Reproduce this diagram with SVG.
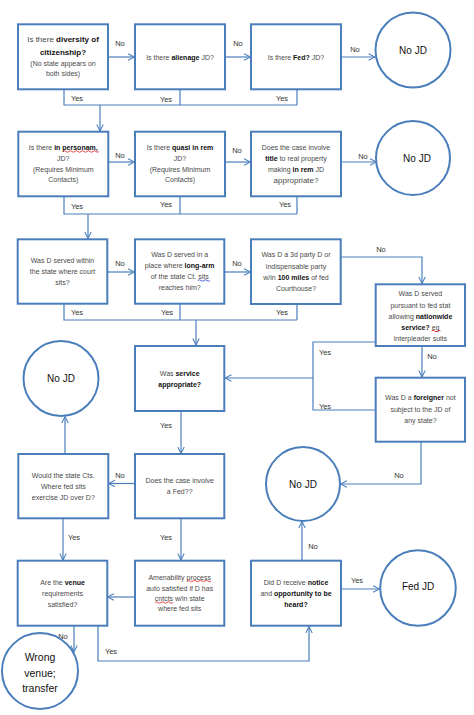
<svg xmlns="http://www.w3.org/2000/svg" width="474" height="715" viewBox="0 0 474 715">
<style>
.box{fill:#fff;stroke:#4A7EBB;stroke-width:2}
.circ{fill:#fff;stroke:#4A7EBB;stroke-width:2}
.conn{fill:none;stroke:#4A7EBB;stroke-width:1.2}
.t{font-family:"Liberation Sans",Arial,sans-serif;font-size:7px;fill:#4a4a4a;text-anchor:middle}
.b{font-weight:bold;fill:#111}
.big{font-size:8px}
.cl{font-family:"Liberation Sans",Arial,sans-serif;font-size:10px;fill:#111;text-anchor:middle}
.lbl{font-family:"Liberation Sans",Arial,sans-serif;font-size:7.5px;fill:#333;text-anchor:middle}
.sq{fill:none;stroke:#e02020;stroke-width:0.8}
.sqb{fill:none;stroke:#2040d0;stroke-width:0.8}
</style>
<defs>
<marker id="arr" viewBox="0 0 10 10" refX="9" refY="5" markerWidth="8" markerHeight="8" orient="auto" markerUnits="userSpaceOnUse">
<path d="M1,1 L9,5 L1,9" fill="none" stroke="#4A7EBB" stroke-width="1.3"/>
</marker>
</defs>
<rect width="474" height="715" fill="#fff"/>

<g id="connectors">
<path class="conn" d="M108,57 H134.5" marker-end="url(#arr)"/>
<path class="conn" d="M225,57 H250.5" marker-end="url(#arr)"/>
<path class="conn" d="M341,57 H375" marker-end="url(#arr)"/>
<path class="conn" d="M64,89.5 V105 H297 M180,89.5 V105 M297,89.5 V105"/>
<path class="conn" d="M100,105 V131" marker-end="url(#arr)"/>

<path class="conn" d="M108,162 H134.5" marker-end="url(#arr)"/>
<path class="conn" d="M225,162 H250.5" marker-end="url(#arr)"/>
<path class="conn" d="M341,162 H376.5" marker-end="url(#arr)"/>
<path class="conn" d="M64,196.5 V214 H297 M180,196.5 V214 M297,196.5 V214"/>
<path class="conn" d="M88,214 V238.5" marker-end="url(#arr)"/>

<path class="conn" d="M107,272 H134.5" marker-end="url(#arr)"/>
<path class="conn" d="M224,272 H250.5" marker-end="url(#arr)"/>
<path class="conn" d="M341,257 H422 V283.5" marker-end="url(#arr)"/>
<path class="conn" d="M64,304 V320 H297 M180,304 V320 M297,304 V320"/>
<path class="conn" d="M196,320 V345" marker-end="url(#arr)"/>

<path class="conn" d="M422,346 V377" marker-end="url(#arr)"/>
<path class="conn" d="M376,342 H313 V410 H376"/>
<path class="conn" d="M313,378 H225" marker-end="url(#arr)"/>

<path class="conn" d="M181,411 V453.5" marker-end="url(#arr)"/>
<path class="conn" d="M65,454 V416.5" marker-end="url(#arr)"/>
<path class="conn" d="M135,483.5 H108.5" marker-end="url(#arr)"/>
<path class="conn" d="M421,441.7 V484 H340.5" marker-end="url(#arr)"/>

<path class="conn" d="M63,518.3 V560" marker-end="url(#arr)"/>
<path class="conn" d="M181,518.3 V560" marker-end="url(#arr)"/>
<path class="conn" d="M135,597 H107.5" marker-end="url(#arr)"/>
<path class="conn" d="M302,560.5 V521.5" marker-end="url(#arr)"/>
<path class="conn" d="M341,589 H379.5" marker-end="url(#arr)"/>
<path class="conn" d="M74,626 V652" marker-end="url(#arr)"/>
<path class="conn" d="M98,626 V661 H309 V626.5" marker-end="url(#arr)"/>

<text class="lbl" x="120" y="46">No</text>
<text class="lbl" x="238" y="46">No</text>
<text class="lbl" x="355" y="52">No</text>
<text class="lbl" x="77" y="100.5">Yes</text>
<text class="lbl" x="166" y="101.5">Yes</text>
<text class="lbl" x="282" y="100.5">Yes</text>

<text class="lbl" x="120" y="157.5">No</text>
<text class="lbl" x="237" y="153">No</text>
<text class="lbl" x="363" y="159">No</text>
<text class="lbl" x="77" y="209">Yes</text>
<text class="lbl" x="166" y="207">Yes</text>
<text class="lbl" x="285" y="207">Yes</text>

<text class="lbl" x="120" y="265.5">No</text>
<text class="lbl" x="237" y="266">No</text>
<text class="lbl" x="381" y="251.5">No</text>
<text class="lbl" x="77" y="315">Yes</text>
<text class="lbl" x="167" y="315">Yes</text>
<text class="lbl" x="282" y="315">Yes</text>

<text class="lbl" x="432" y="359">No</text>
<text class="lbl" x="325" y="355">Yes</text>
<text class="lbl" x="325" y="408.5">Yes</text>
<text class="lbl" x="166" y="427.5">Yes</text>
<text class="lbl" x="120" y="477.5">No</text>
<text class="lbl" x="399" y="478">No</text>
<text class="lbl" x="74" y="540">Yes</text>
<text class="lbl" x="166" y="540">Yes</text>
<text class="lbl" x="313" y="549">No</text>
<text class="lbl" x="357" y="582.5">Yes</text>
<text class="lbl" x="63" y="638.5">No</text>
<text class="lbl" x="111" y="654">Yes</text>
</g>

<g id="n-diversity">
<rect class="box" x="18" y="24.3" width="90" height="65"/>
<text class="t big" x="63" y="41.8">Is there <tspan class="b">diversity of</tspan></text>
<text class="t big b" x="63" y="54.5">citizenship?</text>
<text class="t" x="63" y="65.8">(No state appears on</text>
<text class="t" x="63" y="75.8">both sides)</text>
</g>
<g id="n-alienage">
<rect class="box" x="135" y="24.3" width="90" height="65"/>
<text class="t" x="180" y="59.5">Is there <tspan class="b">alienage</tspan> JD?</text>
</g>
<g id="n-fed">
<rect class="box" x="251" y="24.3" width="90" height="65"/>
<text class="t" x="296" y="59.5">Is there <tspan class="b">Fed?</tspan> JD?</text>
</g>
<g id="n-nojd1">
<circle class="circ" cx="413" cy="50" r="37.5"/>
<text class="cl" x="413" y="53.5">No JD</text>
</g>

<g id="n-personam">
<rect class="box" x="18.3" y="131.7" width="90" height="64.6"/>
<text class="t" x="63.3" y="150.2">Is there <tspan class="b">in personam,</tspan></text>
<path class="sq" d="M63,151.5 q1.5,-1.5 3,0 t3,0 t3,0 t3,0 t3,0 t3,0 t3,0 t3,0 t3,0 t3,0 t3,0 t3,0"/>
<text class="t" x="63.3" y="160.5">JD?</text>
<text class="t" x="63.3" y="171.5">(Requires Minimum</text>
<text class="t" x="63.3" y="182.2">Contacts)</text>
</g>
<g id="n-quasi">
<rect class="box" x="135" y="131.7" width="90" height="64.6"/>
<text class="t" x="180" y="150.2">Is there <tspan class="b">quasi in rem</tspan></text>
<text class="t" x="180" y="160.5">JD?</text>
<text class="t" x="180" y="171.5">(Requires Minimum</text>
<text class="t" x="180" y="182.2">Contacts)</text>
</g>
<g id="n-title">
<rect class="box" x="251" y="131.7" width="90" height="64.6"/>
<text class="t" x="296" y="149.8">Does the case involve</text>
<text class="t" x="296" y="160.8"><tspan class="b">title</tspan> to real property</text>
<text class="t" x="296" y="171.5">making <tspan class="b">in rem</tspan> JD</text>
<text class="t big" x="296" y="183.2">appropriate?</text>
</g>
<g id="n-nojd2">
<circle class="circ" cx="413" cy="158" r="37"/>
<text class="cl" x="417" y="161.5">No JD</text>
</g>

<g id="n-within">
<rect class="box" x="17.7" y="239.3" width="89.6" height="64.4"/>
<text class="t" x="62.5" y="262.5">Was D served within</text>
<text class="t" x="62.5" y="273.5">the state where court</text>
<text class="t" x="62.5" y="284.5">sits?</text>
</g>
<g id="n-longarm">
<rect class="box" x="135" y="239.3" width="89.3" height="64.4"/>
<text class="t" x="179.7" y="256.8">Was D served in a</text>
<text class="t" x="179.7" y="268.2">place where <tspan class="b">long-arm</tspan></text>
<text class="t" x="179.7" y="279.2">of the state Ct. sits</text>
<path class="sqb" d="M198,280.5 q1.5,-1.5 3,0 t3,0 t3,0 t3,0"/>
<text class="t" x="179.7" y="290.2">reaches him?</text>
</g>
<g id="n-100miles">
<rect class="box" x="251" y="239.3" width="89.7" height="64.7"/>
<text class="t" x="296" y="256.8">Was D a 3d party D or</text>
<text class="t" x="296" y="268.5">indispensable party</text>
<text class="t" x="296" y="279.5">w/in <tspan class="b">100 miles</tspan> of fed</text>
<text class="t" x="296" y="290.5">Courthouse?</text>
</g>
<g id="n-nationwide">
<rect class="box" x="375.7" y="284.3" width="89.3" height="61.7"/>
<text class="t" x="420.4" y="295.8">Was D served</text>
<text class="t" x="420.4" y="307.5">pursuant to fed stat</text>
<text class="t" x="420.4" y="318.5">allowing <tspan class="b">nationwide</tspan></text>
<text class="t" x="420.4" y="329.5"><tspan class="b">service?</tspan> eg</text>
<path class="sq" d="M431.5,331 q1.5,-1.5 3,0 t3,0 t3,0"/>
<text class="t" x="420.4" y="340.8">interpleader suits</text>
</g>
<g id="n-foreigner">
<rect class="box" x="375.7" y="377.7" width="89.3" height="64"/>
<text class="t" x="420.4" y="400.2">Was D a <tspan class="b">foreigner</tspan> not</text>
<text class="t" x="420.4" y="411.5">subject to the JD of</text>
<text class="t" x="420.4" y="422.5">any state?</text>
</g>
<g id="n-service">
<rect class="box" x="135" y="346" width="89.3" height="65"/>
<text class="t" x="179.7" y="375.8">Was <tspan class="b">service</tspan></text>
<text class="t b" x="179.7" y="387.2">appropriate?</text>
</g>
<g id="n-nojd3">
<circle class="circ" cx="61" cy="378.5" r="37.5"/>
<text class="cl" x="61" y="382">No JD</text>
</g>

<g id="n-statects">
<rect class="box" x="18.3" y="454" width="90" height="64.3"/>
<text class="t" x="63.3" y="477.5">Would the state Cts.</text>
<text class="t" x="63.3" y="488.8">Where fed sits</text>
<text class="t" x="63.3" y="499.8">exercise JD over D?</text>
</g>
<g id="n-involvefed">
<rect class="box" x="135" y="454" width="89.3" height="64.3"/>
<text class="t" x="179.7" y="482.5">Does the case involve</text>
<text class="t" x="179.7" y="493.5">a Fed??</text>
</g>
<g id="n-nojd4">
<circle class="circ" cx="303" cy="484" r="37"/>
<text class="cl" x="303" y="487.5">No JD</text>
</g>

<g id="n-venue">
<rect class="box" x="17.7" y="560.7" width="89.6" height="65"/>
<text class="t" x="62.5" y="584.8">Are the <tspan class="b">venue</tspan></text>
<text class="t" x="62.5" y="595.8">requirements</text>
<text class="t" x="62.5" y="606.8">satisfied?</text>
</g>
<g id="n-amenability">
<rect class="box" x="135" y="560.7" width="89.3" height="65"/>
<text class="t" x="179.7" y="579.5">Amenability process</text>
<path class="sq" d="M187,581 q1.5,-1.5 3,0 t3,0 t3,0 t3,0 t3,0 t3,0 t3,0 t3,0"/>
<text class="t" x="179.7" y="591.2">auto satisfied if D has</text>
<text class="t" x="179.7" y="601.2">cntcts w/in state</text>
<path class="sq" d="M155,602.5 q1.5,-1.5 3,0 t3,0 t3,0 t3,0 t3,0 t3,0"/>
<text class="t" x="179.7" y="611.2">where fed sits</text>
</g>
<g id="n-notice">
<rect class="box" x="251" y="560.7" width="90" height="65"/>
<text class="t" x="296" y="584.8">Did D receive <tspan class="b">notice</tspan></text>
<text class="t" x="296" y="595.8">and <tspan class="b">opportunity to be</tspan></text>
<text class="t b" x="296" y="606.8">heard?</text>
</g>
<g id="n-fedjd">
<circle class="circ" cx="418" cy="588" r="37.8"/>
<text class="cl" x="418" y="589.5">Fed JD</text>
</g>
<g id="n-wrongvenue">
<circle class="circ" cx="40" cy="671" r="38"/>
<text class="cl" x="40" y="661" style="font-size:10.5px">Wrong</text>
<text class="cl" x="40" y="676.5" style="font-size:10.5px">venue;</text>
<text class="cl" x="40" y="691.5" style="font-size:10.5px">transfer</text>
</g>
</svg>
